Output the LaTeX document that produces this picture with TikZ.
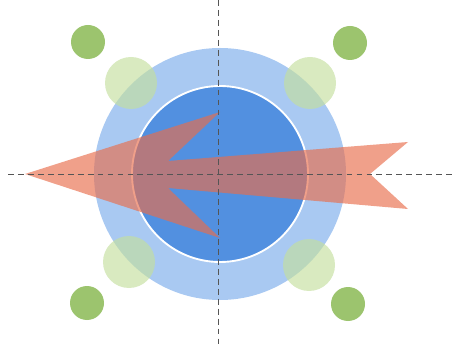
\documentclass[tikz,border=0pt]{standalone}
\usepackage{tikz}
\usetikzlibrary{calc}
\definecolor{ringBlue}{HTML}{A9C9F2}
\definecolor{coreBlue}{HTML}{5290E0}
\definecolor{arrowRed}{HTML}{E86D4B}
\definecolor{padGreen}{HTML}{C4DF9E}
\definecolor{dotGreen}{HTML}{9CC46E}
\definecolor{axisGray}{HTML}{555555}
\tikzset{
  ring/.style={fill=ringBlue},
  core/.style={fill=coreBlue, draw=white, line width=1.6pt},
  pad/.style={fill=padGreen, fill opacity=0.65},
  dot/.style={fill=dotGreen},
  dart/.style={fill=arrowRed, fill opacity=0.65},
  axis/.style={draw=axisGray, line width=0.6pt, dash pattern=on 5pt off 3.5pt},
}
\begin{document}
\begin{tikzpicture}[x=0.03cm, y=-0.03cm]
  \useasboundingbox (0,0) rectangle (454,347);

  % ---- Discs -------------------------------------------------------------
  \coordinate (c) at (220,174);
  \fill[ring] (c) circle (126);
  \filldraw[core] (c) circle (88);

  % ---- Green pads --------------------------------------------------------
  \foreach \px/\py in {131/83, 310/83, 129/262, 309/265}
    \fill[pad] (\px,\py) circle (26);
  \foreach \px/\py in {88/42, 350/43, 87/303, 348/304}
    \fill[dot] (\px,\py) circle (17);

  % ---- Arrow -------------------------------------------------------------
  \coordinate (tip)   at (25,174);
  \coordinate (barbU) at (220,112);
  \coordinate (notchU) at (168,161);
  \coordinate (tailU) at (408,142);
  \coordinate (tailN) at (370,174);
  \coordinate (tailL) at (408,209);
  \coordinate (notchL) at (168,188);
  \coordinate (barbL) at (220,238);
  \fill[dart] (tip) -- (barbU) -- (notchU) -- (tailU) -- (tailN)
    -- (tailL) -- (notchL) -- (barbL) -- cycle;

  % ---- Axes --------------------------------------------------------------
  \coordinate (hW) at (8,174);
  \coordinate (hE) at (454,174);
  \coordinate (vN) at (218,0);
  \coordinate (vS) at (218,347);
  \draw[axis] (hW) -- (hE);
  \draw[axis] (vN) -- (vS);
\end{tikzpicture}
\end{document}
